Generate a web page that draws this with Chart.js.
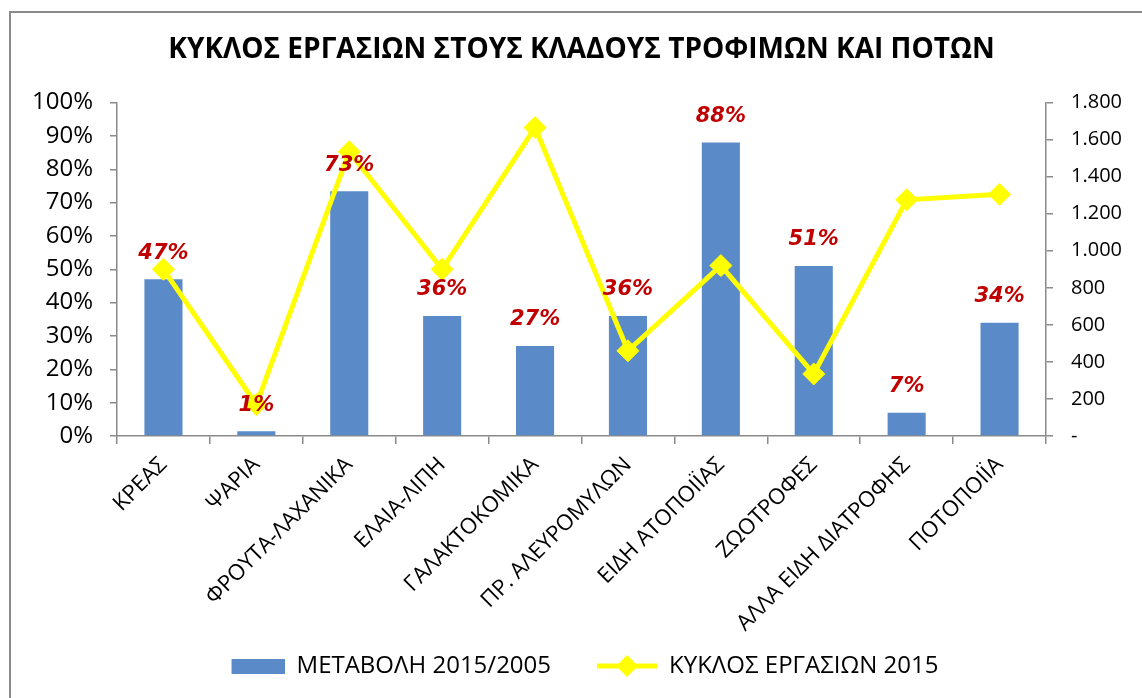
<!DOCTYPE html>
<html>
<head>
<meta charset="utf-8">
<script src="https://cdn.jsdelivr.net/npm/chart.js@4.4.1/dist/chart.umd.min.js"></script>
<style>
  html, body { margin: 0; padding: 0; background: #fff; }
  #wrap { position: relative; width: 1142px; height: 698px; }
</style>
</head>
<body>
<div id="wrap"><canvas id="chart"></canvas></div>
<script>
// categories and values
const categories = ['ΚΡΕΑΣ', 'ΨΑΡΙΑ', 'ΦΡΟΥΤΑ-ΛΑΧΑΝΙΚΑ', 'ΕΛΑΙΑ-ΛΙΠΗ', 'ΓΑΛΑΚΤΟΚΟΜΙΚΑ',
    'ΠΡ. ΑΛΕΥΡΟΜΥΛΩΝ', 'ΕΙΔΗ ΑΤΟΠΟΙΪΑΣ', 'ΖΩΟΤΡΟΦΕΣ', 'ΑΛΛΑ ΕΙΔΗ ΔΙΑΤΡΟΦΗΣ', 'ΠΟΤΟΠΟΙΪΑ'];
const changePct = [47, 1.4, 73.4, 36, 27, 36, 88, 51, 7, 34];        // ΜΕΤΑΒΟΛΗ 2015/2005 (%)
const turnover2015 = [900, 170, 1535, 900, 1665, 460, 920, 335, 1275, 1305]; // ΚΥΚΛΟΣ ΕΡΓΑΣΙΩΝ 2015
const pctTicks = { min: 0, max: 100, step: 10 };
const turnoverTicks = { min: 0, max: 1800, step: 200 };

const BLUE = '#5A8BC8';
const YELLOW = '#FFFF00';
const AXIS = '#8A8A8A';
const FONT = '"Open Sans", "Noto Sans", sans-serif';

// legend symbols drawn as small canvases
function legendSymbol(kind) {
    const c = document.createElement('canvas');
    c.width = 60; c.height = 26;
    const g = c.getContext('2d');
    if (kind === 'bar') {
        g.fillStyle = BLUE;
        g.fillRect(7, 6, 53, 15);
    } else {
        g.strokeStyle = YELLOW;
        g.lineWidth = 5;
        g.beginPath(); g.moveTo(0, 13); g.lineTo(60, 13); g.stroke();
        g.fillStyle = YELLOW;
        g.beginPath();
        g.moveTo(30, 2); g.lineTo(41, 13); g.lineTo(30, 24); g.lineTo(19, 13);
        g.closePath(); g.fill();
    }
    return c;
}
const symbols = [legendSymbol('bar'), legendSymbol('line')];

// frame + white background; also let the long rotated labels run past the x box
const framePlugin = {
    id: 'frame',
    beforeDraw(chart) {
        chart.scales.x._computeLabelArea = () => undefined;
        const ctx = chart.ctx;
        ctx.save();
        ctx.fillStyle = '#fff';
        ctx.fillRect(0, 0, chart.width, chart.height);
        ctx.strokeStyle = AXIS;
        ctx.lineWidth = 2;
        ctx.beginPath();
        ctx.moveTo(10, chart.height);
        ctx.lineTo(10, 12);
        ctx.lineTo(chart.width, 12);
        ctx.stroke();
        ctx.restore();
    }
};

// red percentage labels above the bars
const barLabels = {
    id: 'barLabels',
    afterDatasetsDraw(chart) {
        const ctx = chart.ctx;
        const meta = chart.getDatasetMeta(0);
        ctx.save();
        ctx.font = 'italic bold 21px "DejaVu Sans"';
        ctx.fillStyle = '#C00000';
        ctx.textAlign = 'center';
        ctx.textBaseline = 'middle';
        meta.data.forEach((bar, i) => {
            ctx.fillText(Math.round(changePct[i]) + '%', bar.x, bar.y - 26);
        });
        ctx.restore();
    }
};

Chart.defaults.font.family = FONT;
Chart.defaults.color = '#000';

new Chart(document.getElementById('chart'), {
    type: 'bar',
    data: {
        labels: categories,
        datasets: [
            {
                label: 'ΜΕΤΑΒΟΛΗ 2015/2005',
                data: changePct,
                backgroundColor: BLUE,
                yAxisID: 'y',
                categoryPercentage: 1,
                barPercentage: 0.41,
                order: 1
            },
            {
                type: 'line',
                label: 'ΚΥΚΛΟΣ ΕΡΓΑΣΙΩΝ 2015',
                data: turnover2015,
                yAxisID: 'y1',
                borderColor: YELLOW,
                backgroundColor: YELLOW,
                borderWidth: 5,
                tension: 0,
                pointStyle: 'rectRot',
                pointRadius: 11,
                pointBorderWidth: 1,
                pointBackgroundColor: YELLOW,
                pointBorderColor: YELLOW,
                order: 0
            }
        ]
    },
    options: {
        responsive: true,
        maintainAspectRatio: false,
        animation: false,
        events: [],
        layout: { padding: { left: 0, right: 0, top: 0, bottom: 10 } },
        scales: {
            x: {
                offset: true,
                grid: { offset: true, drawOnChartArea: false, color: AXIS, tickLength: 8, lineWidth: 1.5 },
                border: { color: AXIS, width: 1.5 },
                ticks: { minRotation: 45, maxRotation: 45, padding: 8, autoSkip: false,
                         font: { size: 22 } },
                afterFit(scale) { scale.height = 172; }
            },
            y: {
                position: 'left',
                min: pctTicks.min, max: pctTicks.max,
                grid: { drawOnChartArea: false, color: AXIS, tickLength: 7, lineWidth: 1.5 },
                border: { color: AXIS, width: 1.5 },
                ticks: { stepSize: pctTicks.step, padding: 17, autoSkip: false, font: { size: 24 },
                         callback: v => v + '%' },
                afterFit(scale) { scale.width = 117; }
            },
            y1: {
                position: 'right',
                min: turnoverTicks.min, max: turnoverTicks.max,
                grid: { drawOnChartArea: false, color: AXIS, tickLength: 7, lineWidth: 1.5 },
                border: { color: AXIS, width: 1.5 },
                ticks: { stepSize: turnoverTicks.step, padding: 18, autoSkip: false, font: { size: 20 },
                         callback: v => v === 0 ? '-' : v.toLocaleString('de-DE') },
                afterFit(scale) { scale.width = 96; }
            }
        },
        plugins: {
            title: {
                display: true,
                fullSize: false,
                text: 'ΚΥΚΛΟΣ ΕΡΓΑΣΙΩΝ ΣΤΟΥΣ ΚΛΑΔΟΥΣ ΤΡΟΦΙΜΩΝ ΚΑΙ ΠΟΤΩΝ',
                color: '#000',
                font: { size: 28, weight: 'bold' },
                padding: { top: 33, bottom: 36 }
            },
            legend: {
                position: 'bottom',
                fullSize: false,
                labels: {
                    usePointStyle: true,
                    pointStyleWidth: 60,
                    padding: 46,
                    color: '#000',
                    font: { size: 24 },
                    generateLabels(chart) {
                        return chart.data.datasets.map((ds, i) => ({
                            text: ds.label,
                            datasetIndex: i,
                            pointStyle: symbols[i],
                            fillStyle: 'transparent',
                            strokeStyle: 'transparent',
                            lineWidth: 0,
                            hidden: false
                        }));
                    }
                }
            },
            tooltip: { enabled: false }
        }
    },
    plugins: [framePlugin, barLabels]
});
</script>
</body>
</html>
